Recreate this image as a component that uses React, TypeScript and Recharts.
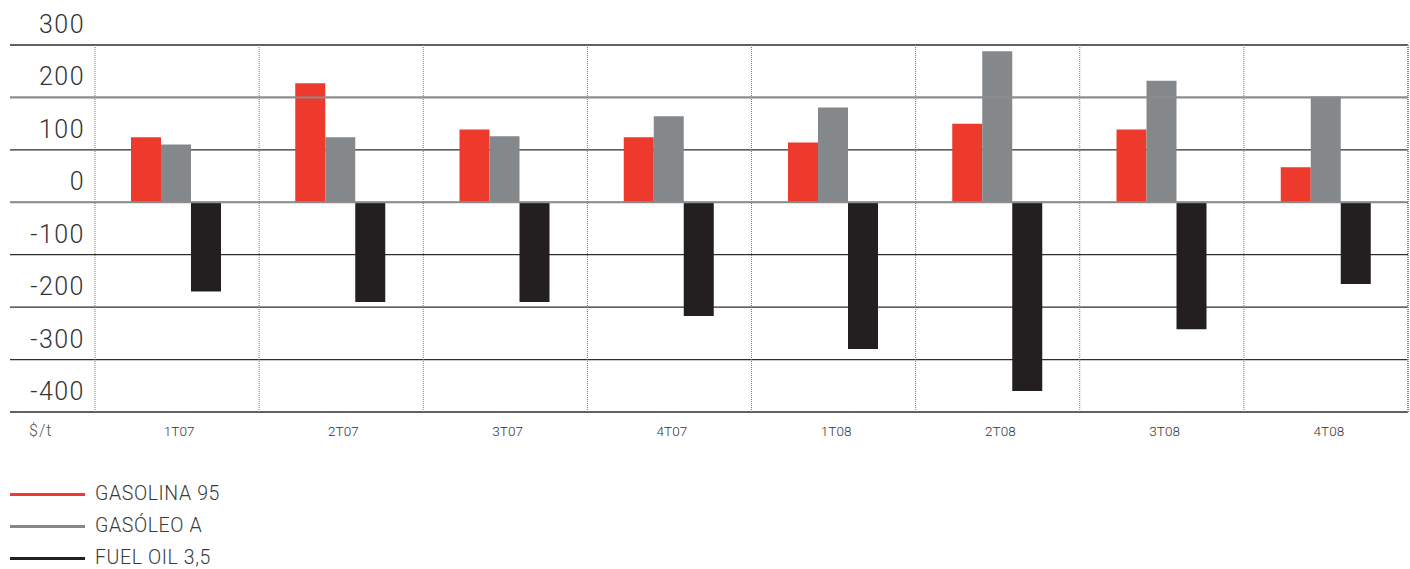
import { BarChart, Bar, XAxis, YAxis, CartesianGrid, ReferenceLine } from "recharts";

const quarters = ["1T07", "2T07", "3T07", "4T07", "1T08", "2T08", "3T08", "4T08"];
const gasolina = [124, 227, 139, 124, 114, 150, 139, 67];
const gasoleo = [110, 124, 126, 164, 181, 288, 232, 202];
const fuelOil = [-170, -190, -190, -217, -280, -360, -242, -156];
const yTicks = [-400, -300, -200, -100, 0, 100, 200, 300];

const series = [
    { key: "gasolina", name: "GASOLINA 95", color: "#ee3a2c" },
    { key: "gasoleo", name: "GASÓLEO A", color: "#85888a" },
    { key: "fuel", name: "FUEL OIL 3,5", color: "#231f20" },
];

const data = quarters.map((q, i) => ({
    name: q,
    gasolina: gasolina[i],
    gasoleo: gasoleo[i],
    fuel: fuelOil[i],
}));

const W = 1410;
const H = 460;
const M = { top: 45, right: 2, left: 9, bottom: 0 };
const Y_W = 1;
const PAD_LEFT = 85;
const FONT = "Roboto, 'DejaVu Sans', sans-serif";

const YTick = (props: any) => {
    const { y, payload } = props;
    return (
        <text x={85} y={y - 12} textAnchor="end" fontSize={25} fontWeight={300} fill="#333" fontFamily={FONT} letterSpacing={1.5}>
            {payload.value}
        </text>
    );
};

const XTick = (props: any) => {
    const { x, y, payload } = props;
    return (
        <text x={x + 3} y={y + 16} textAnchor="middle" fontSize={13.5} fontWeight={300} fill="#333" fontFamily={FONT}>
            {payload.value}
        </text>
    );
};

// category boundaries (dotted lines)
const bandStart = M.left + Y_W + PAD_LEFT;
const bandW = (W - M.right - bandStart) / quarters.length;
const vLines = quarters.map((_, i) => bandStart + i * bandW);

const App = () => (
    <div style={{ position: "absolute", left: 0, top: 0, width: W, height: 569, background: "#fff" }}>
        <BarChart width={W} height={H} data={data} margin={M} barGap={0} barSize={30}>
            <CartesianGrid vertical={false} stroke="#2e2e2e" strokeWidth={1.3} />
            <CartesianGrid
                horizontal={false}
                stroke="#777"
                strokeDasharray="1 1"
                verticalCoordinatesGenerator={() => vLines}
            />
            <XAxis
                dataKey="name"
                padding={{ left: PAD_LEFT - 1, right: 0 }}
                axisLine={false}
                tickLine={false}
                tick={<XTick />}
                height={48}
                interval={0}
            />
            <YAxis
                domain={[-400, 300]}
                ticks={yTicks}
                width={Y_W}
                axisLine={false}
                tickLine={false}
                tick={<YTick />}
                interval={0}
            />
            <ReferenceLine y={200} stroke="#8c8c8c" strokeWidth={2} />
            <ReferenceLine y={0} stroke="#8c8c8c" strokeWidth={2} />
            {series.map((s) => (
                <Bar key={s.key} dataKey={s.key} fill={s.color} isAnimationActive={false} />
            ))}
        </BarChart>
        <div
            style={{
                position: "absolute",
                left: W - M.right - 1,
                top: M.top,
                width: 2,
                height: H - M.top - 48,
                backgroundImage: "repeating-linear-gradient(#888 0 1px, transparent 1px 2px)",
            }}
        />
        <div style={{ position: "absolute", left: 29, top: 421, fontSize: 16, fontWeight: 300, color: "#555", fontFamily: FONT, letterSpacing: 1 }}>$/t</div>
        <div style={{ position: "absolute", left: 10, top: 478 }}>
            {series.map((s) => (
                <div key={s.key} style={{ display: "flex", alignItems: "center", height: 32 }}>
                    <div style={{ width: 75, height: 3, background: s.color, marginRight: 10 }} />
                    <span style={{ fontSize: 19.5, fontWeight: 300, color: "#3a3a3a", fontFamily: FONT, lineHeight: "22px", letterSpacing: 0.6 }}>{s.name}</span>
                </div>
            ))}
        </div>
    </div>
);

export default App;
